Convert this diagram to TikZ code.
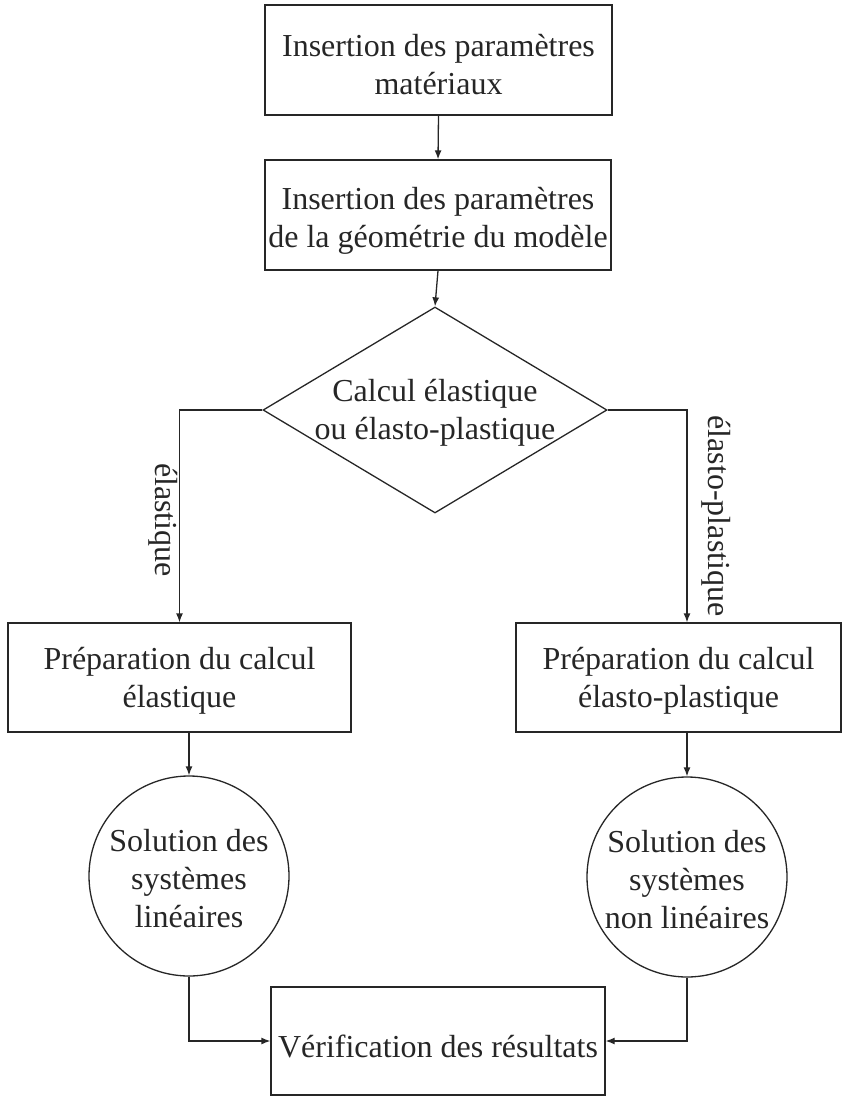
\documentclass[tikz,border=0pt]{standalone}
\usepackage{fontspec}
\setmainfont{Liberation Serif}
\usetikzlibrary{shapes.geometric,arrows.meta,calc}
\definecolor{ink}{gray}{0.15}
\begin{document}
\begin{tikzpicture}[x=1pt,y=-1pt,
  txt/.style={font=\fontsize{32}{38}\selectfont, text=ink, align=center, inner sep=0pt},
  box/.style={draw=ink, line width=1.3pt, rectangle, inner sep=0pt},
  rbox/.style={draw=ink, line width=1.3pt, diamond, inner sep=0pt},
  cbox/.style={draw=ink, line width=1.3pt, circle, inner sep=0pt, minimum size=200pt},
  conn/.style={draw=ink, line width=1.3pt, -{Latex[length=9pt,width=7pt]}}]
\useasboundingbox (0,0) rectangle (854,1097);
% shapes
\node[box, minimum width=347pt, minimum height=110pt] (b1) at (438.5,60) {};
\node[box, minimum width=346pt, minimum height=110pt] (b2) at (438,215) {};
\node[rbox, minimum width=344pt, minimum height=206pt] (d) at (435,410) {};
\node[box, minimum width=343pt, minimum height=109pt] (b3) at (179.5,677.5) {};
\node[box, minimum width=325pt, minimum height=109pt] (b4) at (678.5,677.5) {};
\node[cbox] (c1) at (189,876) {};
\node[cbox] (c2) at (687,877) {};
\node[box, minimum width=334pt, minimum height=108pt] (b5) at (438,1041) {};
% texts
\node[txt] (t1) at ($(b1.center)+(0,5)$) {Insertion des paramètres\\matériaux};
\node[txt] (t2) at ($(b2.center)+(0,6)$) {Insertion des paramètres\\de la géométrie du modèle};
\node[txt] (td) at ($(d.center)+(0,3)$) {Calcul élastique\\ou élasto-plastique};
\node[txt] (t3) at ($(b3.center)+(0,3)$) {Préparation du calcul\\élastique};
\node[txt] (t4) at ($(b4.center)+(0,3)$) {Préparation du calcul\\élasto-plastique};
\node[txt] (tc1) at ($(c1.center)+(0,3)$) {Solution des\\systèmes\\linéaires};
\node[txt] (tc2) at ($(c2.center)+(0,3)$) {Solution des\\systèmes\\non linéaires};
\node[txt] (t5) at ($(b5.center)+(0,5)$) {Vérification des résultats};
% branch labels
\node[txt, rotate=-90] (le) at (163,520) {élastique};
\node[txt, rotate=-90] (lp) at (716,516) {élasto-plastique};
% connectors
\draw[conn] (b1.south) -- (b2.north);
\draw[conn] (b2.south) -- (d.north);
\draw[conn] (d.west) -| (b3.north);
\draw[conn] (d.east) -| (b4.north -| c2.north);
\draw[conn] (b3.south -| c1.north) -- (c1.north);
\draw[conn] (b4.south -| c2.north) -- (c2.north);
\draw[conn] (c1.south) |- (b5.west);
\draw[conn] (c2.south) |- (b5.east);
\end{tikzpicture}
\end{document}
